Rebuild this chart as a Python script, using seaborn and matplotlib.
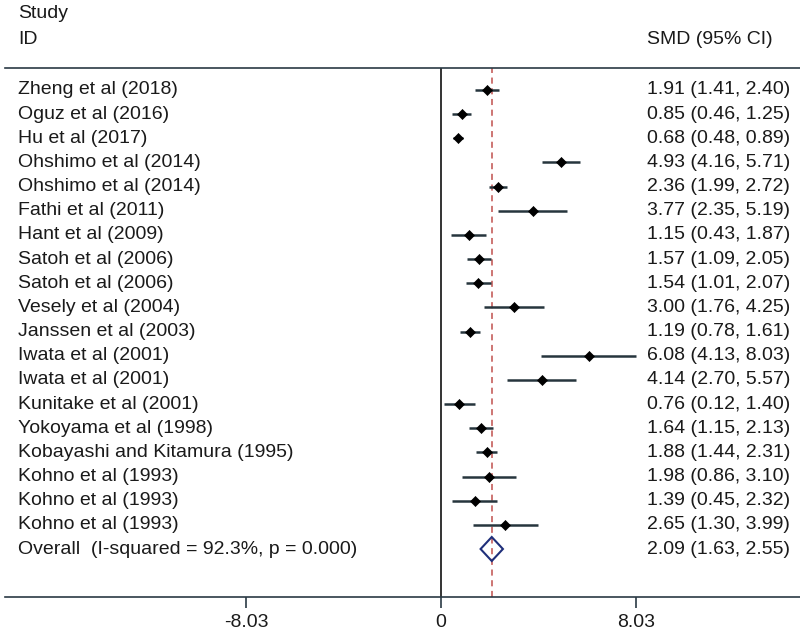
import matplotlib
matplotlib.use("Agg")
import matplotlib.pyplot as plt
import matplotlib.transforms as mtransforms
from matplotlib.patches import Polygon
import seaborn as sns
import pandas as pd

sns.set_theme(style="white")
plt.rcParams['font.family'] = ['Liberation Sans', 'DejaVu Sans']

studies = ["Zheng et al (2018)", "Oguz et al (2016)", "Hu et al (2017)",
           "Ohshimo et al (2014)", "Ohshimo et al (2014)", "Fathi et al (2011)",
           "Hant et al (2009)", "Satoh et al (2006)", "Satoh et al (2006)",
           "Vesely et al (2004)", "Janssen et al (2003)", "Iwata et al (2001)",
           "Iwata et al (2001)", "Kunitake et al (2001)", "Yokoyama et al (1998)",
           "Kobayashi and Kitamura (1995)", "Kohno et al (1993)",
           "Kohno et al (1993)", "Kohno et al (1993)"]
smd = [1.91, 0.85, 0.68, 4.93, 2.36, 3.77, 1.15, 1.57, 1.54, 3.00, 1.19,
       6.08, 4.14, 0.76, 1.64, 1.88, 1.98, 1.39, 2.65]
lower = [1.41, 0.46, 0.48, 4.16, 1.99, 2.35, 0.43, 1.09, 1.01, 1.76, 0.78,
         4.13, 2.70, 0.12, 1.15, 1.44, 0.86, 0.45, 1.30]
upper = [2.40, 1.25, 0.89, 5.71, 2.72, 5.19, 1.87, 2.05, 2.07, 4.25, 1.61,
         8.03, 5.57, 1.40, 2.13, 2.31, 3.10, 2.32, 3.99]
overall_label = "Overall  (I-squared = 92.3%, p = 0.000)"
overall = [2.09, 1.63, 2.55]
xticks = [-8.03, 0, 8.03]
xtick_labels = ["-8.03", "0", "8.03"]

df = pd.DataFrame({"study": studies, "smd": smd, "lower": lower,
                   "upper": upper, "row": list(range(1, len(studies) + 1))})

fig = plt.figure(figsize=(8.0, 6.36), dpi=100)
ax = fig.add_axes([5 / 800, 39 / 636, 795 / 800, (597 - 68) / 636])

# pixel mapping: x=0 -> 441 px, 8.03 -> 636 px
ppu = (636 - 441) / 8.03
ax.set_xlim(-(441 - 5) / ppu, (800 - 441) / ppu)
row_h = (549 - 90) / 19
top_rows = (90 - 68) / row_h
bot_rows = (597 - 549) / row_h
ax.set_ylim(20 + bot_rows, 1 - top_rows)

line_col = "#26353d"
txt_col = "#1a1a1a"

# reference lines
ax.axvline(0, color="#111111", lw=1.2)
ax.axvline(overall[0], color="#c0504d", lw=1.1, ls=(0, (4, 3)))

# CIs
ax.hlines(df["row"], df["lower"], df["upper"], color=line_col, lw=1.8, zorder=3)
sns.scatterplot(data=df, x="smd", y="row", marker="D", s=26, color="black",
                edgecolor="black", linewidth=0.5, ax=ax, zorder=4, legend=False)

# overall diamond
orow = 20
dh = 12 / row_h
diamond = Polygon([[overall[1], orow], [overall[0], orow - dh],
                   [overall[2], orow], [overall[0], orow + dh]],
                  closed=True, fill=False, edgecolor="#1f2f7a", lw=1.5, zorder=5)
ax.add_patch(diamond)

# texts
trans = mtransforms.blended_transform_factory(fig.transFigure, ax.transData)
fs = 14
lx = 18 / 800
rx = 647 / 800
for i, r in df.iterrows():
    ax.text(lx, r["row"], r["study"], transform=trans, va="center",
            ha="left", fontsize=fs, color=txt_col)
    ax.text(rx, r["row"], f"{r['smd']:.2f} ({r['lower']:.2f}, {r['upper']:.2f})",
            transform=trans, va="center", ha="left", fontsize=fs, color=txt_col)
ax.text(lx, orow, overall_label, transform=trans, va="center", ha="left",
        fontsize=fs, color=txt_col)
ax.text(rx, orow, f"{overall[0]:.2f} ({overall[1]:.2f}, {overall[2]:.2f})",
        transform=trans, va="center", ha="left", fontsize=fs, color=txt_col)

fig.text(lx, 1 - 13 / 636, "Study", va="center", ha="left", fontsize=fs, color=txt_col)
fig.text(lx, 1 - 39 / 636, "ID", va="center", ha="left", fontsize=fs, color=txt_col)
fig.text(rx, 1 - 39 / 636, "SMD (95% CI)", va="center", ha="left", fontsize=fs, color=txt_col)

# axes styling
for side in ["left", "right"]:
    ax.spines[side].set_visible(False)
for side in ["top", "bottom"]:
    ax.spines[side].set_visible(True)
    ax.spines[side].set_color("#2a3a44")
    ax.spines[side].set_linewidth(1.2)
ax.set_yticks([])
ax.set_xticks(xticks)
ax.set_xticklabels(xtick_labels, fontsize=fs, color=txt_col)
ax.tick_params(axis="x", direction="out", length=8, width=1.2, color="#2a3a44",
               bottom=True, pad=4)
ax.set_xlabel("")
ax.set_ylabel("")

fig.savefig("out.png", dpi=100)
